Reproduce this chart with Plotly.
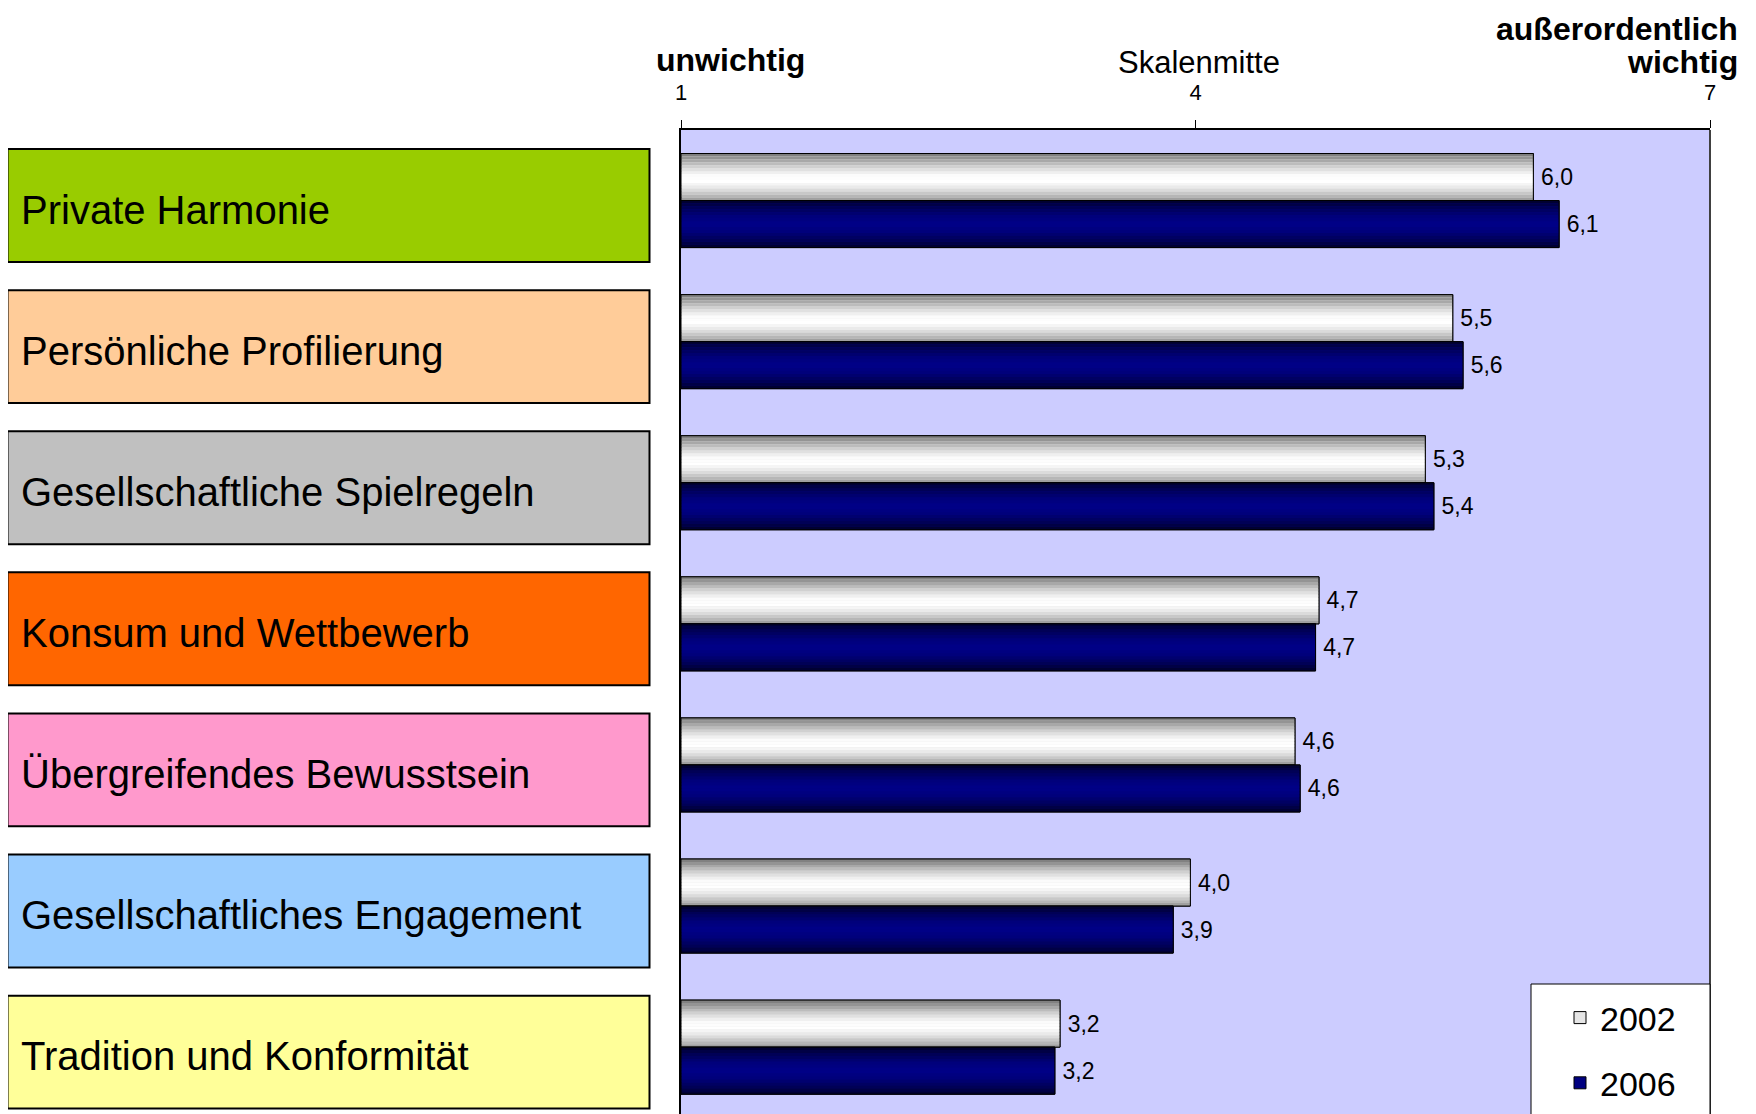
import plotly.graph_objects as go

# ---------------- data ----------------
categories = [
    "Private Harmonie",
    "Persönliche Profilierung",
    "Gesellschaftliche Spielregeln",
    "Konsum und Wettbewerb",
    "Übergreifendes Bewusstsein",
    "Gesellschaftliches Engagement",
    "Tradition und Konformität",
]
values_2002 = [5.97, 5.50, 5.34, 4.72, 4.58, 3.97, 3.21]
values_2006 = [6.12, 5.56, 5.39, 4.70, 4.61, 3.87, 3.18]
series_names = ["2002", "2006"]
box_colors = ["#99CC00", "#FFCC99", "#C0C0C0", "#FF6600", "#FF99CC", "#99CCFF", "#FFFF99"]
tick_values = [1, 4, 7]
tick_labels = ["1", "4", "7"]
scale_min, scale_max = 1, 7

# ---------------- layout geometry (screen pixels; page body has an 8px margin) ----------------
OFF = 8
FW, FH = 1740, 1106
L, R, T, B = 681, 1710, 130, 1114   # plot area in screen px
PITCH = 141.1  # px per category
FONT = "Liberation Sans, Arial, sans-serif"


def px_x(x):
    return (x - L) / (R - L)


def px_y(y):
    return (B - y) / (B - T)


n = len(categories)
ypos = list(range(n))
bottom_units = -0.5 + (B - T) / PITCH
h = 1 / 3  # bar thickness in category units


def fmt(v):
    return f"{v:.1f}".replace(".", ",")


def hex2rgb(c):
    c = c.lstrip("#")
    return tuple(int(c[i:i + 2], 16) for i in (0, 2, 4))


def interp(stops, t):
    for (t0, c0), (t1, c1) in zip(stops[:-1], stops[1:]):
        if t0 <= t <= t1:
            a = (t - t0) / (t1 - t0) if t1 > t0 else 0
            r0, g0, b0 = hex2rgb(c0)
            r1, g1, b1 = hex2rgb(c1)
            return "rgb(%d,%d,%d)" % (round(r0 + (r1 - r0) * a), round(g0 + (g1 - g0) * a), round(b0 + (b1 - b0) * a))
    return stops[-1][1]


grad_2002 = [(0.0, "#777777"), (0.12, "#9c9c9c"), (0.28, "#d0d0d0"), (0.45, "#fafafa"),
             (0.6, "#ffffff"), (0.75, "#e4e4e4"), (0.9, "#b8b8b8"), (1.0, "#959595")]
grad_2006 = [(0.0, "#00002a"), (0.15, "#000055"), (0.35, "#00007c"), (0.5, "#000088"),
             (0.65, "#00007c"), (0.85, "#000055"), (1.0, "#00002a")]

fig = go.Figure()
NSTRIP = 16
series = [
    (series_names[0], values_2002, -h, grad_2002, "#e6e6e6"),
    (series_names[1], values_2006, 0.0, grad_2006, "#000080"),
]
for gi, (name, vals, off0, grad, base_col) in enumerate(series):
    lengths = [v - scale_min for v in vals]
    # base bar (legend entry)
    fig.add_trace(go.Bar(
        y=ypos, x=lengths, base=scale_min, orientation="h", width=h, offset=off0,
        marker=dict(color=base_col, line=dict(color="black", width=1)),
        name=name, legendgroup=name, showlegend=True, hoverinfo="skip",
    ))
    # gradient strips
    for k in range(NSTRIP):
        t = (k + 0.5) / NSTRIP
        fig.add_trace(go.Bar(
            y=ypos, x=lengths, base=scale_min, orientation="h", width=h / NSTRIP,
            offset=off0 + k * h / NSTRIP,
            marker=dict(color=interp(grad, t), line=dict(width=0)),
            showlegend=False, legendgroup=name, hoverinfo="skip",
        ))
    # outline + value labels
    fig.add_trace(go.Bar(
        y=ypos, x=lengths, base=scale_min, orientation="h", width=h, offset=off0,
        marker=dict(color="rgba(0,0,0,0)", line=dict(color="black", width=1)),
        text=[fmt(v) for v in vals], texttemplate="\u2009%{text}", textposition="outside",
        cliponaxis=False,
        textfont=dict(family=FONT, size=23, color="black"), constraintext="none",
        showlegend=False, legendgroup=name, hoverinfo="skip",
    ))

shapes = []
annotations = []
# category boxes on the left
for i, (cat, col) in enumerate(zip(categories, box_colors)):
    yc = i + 0.035
    shapes.append(dict(
        type="rect", xref="paper", yref="y",
        x0=px_x(7.5), x1=px_x(649.5), y0=yc - 0.40, y1=yc + 0.40,
        fillcolor=col, line=dict(color="black", width=2), layer="above",
    ))
    annotations.append(dict(
        text=cat, xref="paper", yref="y", x=px_x(19), y=yc + 0.03,
        xanchor="left", yanchor="middle", showarrow=False,
        font=dict(family=FONT, size=40, color="black"),
    ))

# right border of plot
shapes.append(dict(type="line", xref="paper", yref="paper", x0=1, x1=1, y0=0, y1=1,
                   line=dict(color="#404040", width=2), layer="above"))
# legend frame (extends below the visible area, as in the original)
shapes.append(dict(type="rect", xref="paper", yref="paper", x0=px_x(1531), x1=1.0,
                   y0=px_y(1160), y1=px_y(984), fillcolor="white",
                   line=dict(color="black", width=1), layer="above"))

# header texts
annotations += [
    dict(text="<b>unwichtig</b>", xref="paper", yref="paper", x=px_x(654), y=px_y(60),
         xanchor="left", yanchor="middle", showarrow=False,
         font=dict(family=FONT, size=32, color="black")),
    dict(text="Skalenmitte", xref="x", yref="paper", x=4.02, y=px_y(62),
         xanchor="center", yanchor="middle", showarrow=False,
         font=dict(family=FONT, size=31, color="black")),
    dict(text="<b>außerordentlich</b>", xref="paper", yref="paper", x=px_x(1740), y=px_y(29),
         xanchor="right", yanchor="middle", showarrow=False,
         font=dict(family=FONT, size=32, color="black")),
    dict(text="<b>wichtig</b>", xref="paper", yref="paper", x=px_x(1740), y=px_y(62),
         xanchor="right", yanchor="middle", showarrow=False,
         font=dict(family=FONT, size=32, color="black")),
]

fig.update_layout(
    width=FW, height=FH,
    margin=dict(l=L - OFF, r=FW - (R - OFF), t=T - OFF, b=FH - (B - OFF), pad=0),
    paper_bgcolor="white", plot_bgcolor="#CCCCFF",
    barmode="overlay", separators=",.",
    font=dict(family=FONT, color="black"),
    hovermode=False,
    shapes=shapes, annotations=annotations,
    legend=dict(
        x=px_x(1560), xanchor="left", y=px_y(989), yanchor="top",
        bgcolor="rgba(0,0,0,0)", borderwidth=0,
        font=dict(family=FONT, size=34, color="black"),
        traceorder="grouped", tracegroupgap=18,
    ),
    xaxis=dict(
        side="top", range=[scale_min, scale_max], tickmode="array",
        tickvals=tick_values, ticktext=tick_labels,
        ticks="outside", ticklen=8, tickcolor="black", tickwidth=1,
        tickfont=dict(family=FONT, size=22, color="black"), ticklabelstandoff=11,
        showline=True, linecolor="black", linewidth=2,
        showgrid=False, zeroline=False, fixedrange=True,
    ),
    yaxis=dict(
        range=[bottom_units, -0.5], showticklabels=False, ticks="",
        showline=True, linecolor="black", linewidth=1.5,
        showgrid=False, zeroline=False, fixedrange=True,
    ),
)

fig.write_html("out.html")
